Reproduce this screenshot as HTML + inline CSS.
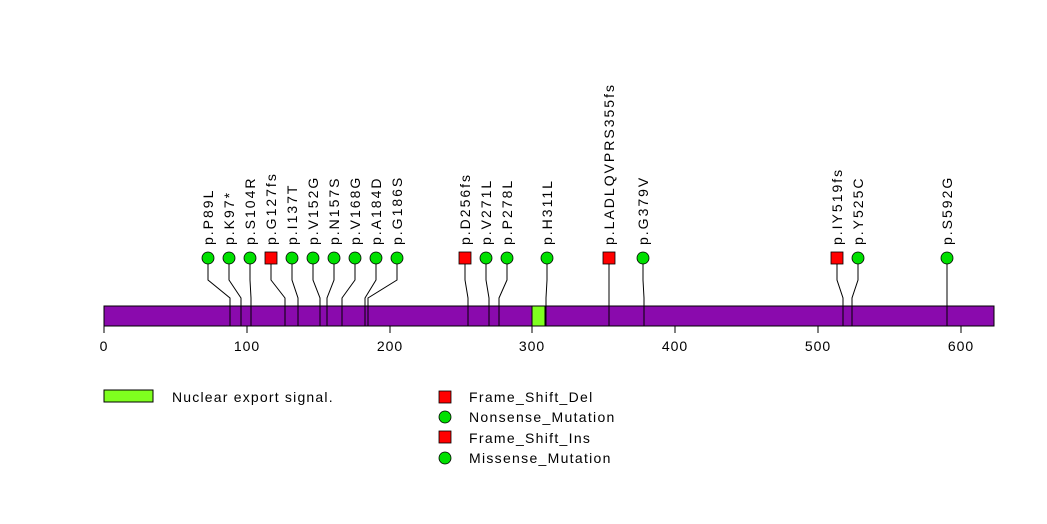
<!DOCTYPE html>
<html><head><meta charset="utf-8"><style>body{margin:0;background:#fff}svg{display:block}</style></head><body>
<svg width="1047" height="524" xmlns="http://www.w3.org/2000/svg" font-family="Liberation Sans, sans-serif">
<rect x="104" y="306" width="890" height="20" fill="#8a0aad" stroke="#000" stroke-width="1"/>
<rect x="532" y="306" width="13" height="20" fill="#7fff1f" stroke="#000" stroke-width="1"/>
<g stroke="#000" stroke-width="1" fill="none">
<line x1="104" y1="326" x2="961" y2="326"/>
<line x1="104" y1="326" x2="104" y2="333"/><line x1="247" y1="326" x2="247" y2="333"/><line x1="390" y1="326" x2="390" y2="333"/><line x1="532" y1="326" x2="532" y2="333"/><line x1="675" y1="326" x2="675" y2="333"/><line x1="818" y1="326" x2="818" y2="333"/><line x1="961" y1="326" x2="961" y2="333"/>
</g>
<g font-size="14" text-anchor="middle" fill="#000" letter-spacing="1">
<text x="104" y="351">0</text><text x="247" y="351">100</text><text x="390" y="351">200</text><text x="532" y="351">300</text><text x="675" y="351">400</text><text x="818" y="351">500</text><text x="961" y="351">600</text>
</g>
<g stroke="#000" stroke-width="1" fill="none">
<polyline points="208,258 208,280 230,298 230,326"/>
<polyline points="229,258 229,280 241,298 241,326"/>
<polyline points="250,258 250,280 251,298 251,326"/>
<polyline points="271,258 271,280 285,298 285,326"/>
<polyline points="292,258 292,280 298,298 298,326"/>
<polyline points="313,258 313,280 320,298 320,326"/>
<polyline points="334,258 334,280 327,298 327,326"/>
<polyline points="355,258 355,280 342,298 342,326"/>
<polyline points="376,258 376,280 365,298 365,326"/>
<polyline points="397,258 397,280 368,298 368,326"/>
<polyline points="465,258 465,280 468,298 468,326"/>
<polyline points="486,258 486,280 489,298 489,326"/>
<polyline points="507,258 507,280 499,298 499,326"/>
<polyline points="547,258 547,280 546,298 546,326"/>
<polyline points="609,258 609,280 609,298 609,326"/>
<polyline points="643,258 643,280 644,298 644,326"/>
<polyline points="837,258 837,280 843,298 843,326"/>
<polyline points="858,258 858,280 852,298 852,326"/>
<polyline points="947,258 947,280 947,298 947,326"/>
</g>
<g stroke="#000" stroke-width="0.8">
<g fill="#00e000">
<circle cx="208" cy="258" r="6"/><circle cx="229" cy="258" r="6"/><circle cx="250" cy="258" r="6"/><circle cx="292" cy="258" r="6"/><circle cx="313" cy="258" r="6"/><circle cx="334" cy="258" r="6"/><circle cx="355" cy="258" r="6"/><circle cx="376" cy="258" r="6"/><circle cx="397" cy="258" r="6"/><circle cx="486" cy="258" r="6"/><circle cx="507" cy="258" r="6"/><circle cx="547" cy="258" r="6"/><circle cx="643" cy="258" r="6"/><circle cx="858" cy="258" r="6"/><circle cx="947" cy="258" r="6"/>
</g>
<g fill="#ff0000">
<rect x="265" y="252" width="12" height="12"/><rect x="459" y="252" width="12" height="12"/><rect x="603" y="252" width="12" height="12"/><rect x="831" y="252" width="12" height="12"/>
</g>
</g>
<g font-size="14" fill="#000" letter-spacing="2">
<text transform="translate(213,245) rotate(-90)">p.P89L</text>
<text transform="translate(234,245) rotate(-90)">p.K97*</text>
<text transform="translate(255,245) rotate(-90)">p.S104R</text>
<text transform="translate(276,245) rotate(-90)">p.G127fs</text>
<text transform="translate(297,245) rotate(-90)">p.I137T</text>
<text transform="translate(318,245) rotate(-90)">p.V152G</text>
<text transform="translate(339,245) rotate(-90)">p.N157S</text>
<text transform="translate(360,245) rotate(-90)">p.V168G</text>
<text transform="translate(381,245) rotate(-90)">p.A184D</text>
<text transform="translate(402,245) rotate(-90)">p.G186S</text>
<text transform="translate(470,245) rotate(-90)">p.D256fs</text>
<text transform="translate(491,245) rotate(-90)">p.V271L</text>
<text transform="translate(512,245) rotate(-90)">p.P278L</text>
<text transform="translate(552,245) rotate(-90)">p.H311L</text>
<text transform="translate(614,245) rotate(-90)">p.LADLQVPRS355fs</text>
<text transform="translate(648,245) rotate(-90)">p.G379V</text>
<text transform="translate(842,245) rotate(-90)">p.IY519fs</text>
<text transform="translate(863,245) rotate(-90)">p.Y525C</text>
<text transform="translate(952,245) rotate(-90)">p.S592G</text>
</g>
<rect x="104" y="390" width="49" height="12" fill="#7fff1f" stroke="#000" stroke-width="1"/>
<text x="172" y="402" font-size="14" letter-spacing="1.2">Nuclear export signal.</text>
<g stroke="#000" stroke-width="0.8">
<rect x="439" y="391" width="12" height="12" fill="#ff0000"/>
<circle cx="445" cy="417" r="6" fill="#00e000"/>
<rect x="439" y="431" width="12" height="12" fill="#ff0000"/>
<circle cx="445" cy="458" r="6" fill="#00e000"/>
</g>
<g font-size="14" fill="#000" letter-spacing="1.3">
<text x="469" y="402">Frame_Shift_Del</text>
<text x="469" y="422">Nonsense_Mutation</text>
<text x="469" y="443">Frame_Shift_Ins</text>
<text x="469" y="463">Missense_Mutation</text>
</g>
</svg>
</body></html>
